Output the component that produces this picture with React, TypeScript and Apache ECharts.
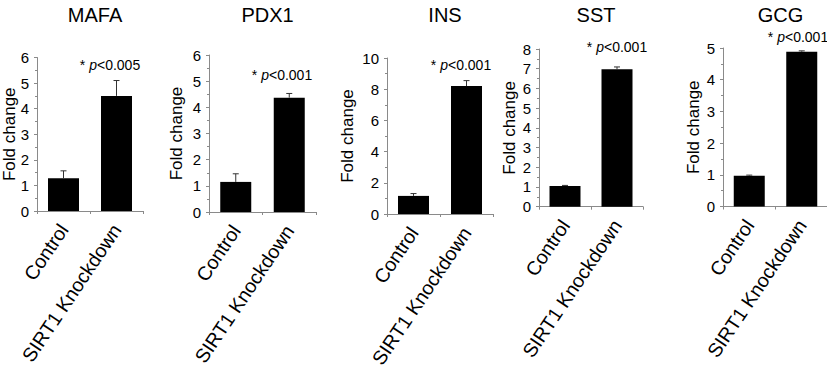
import React, { useEffect, useRef } from "react";
import * as echarts from "echarts";

const genes = ["MAFA", "PDX1", "INS", "SST", "GCG"];
const categories = ["Control", "SIRT1 Knockdown"];
const controlMean = [1.28, 1.15, 1.16, 1.05, 0.97];
const controlErr = [0.29, 0.31, 0.15, 0.03, 0.02];
const knockdownMean = [4.5, 4.37, 8.2, 6.97, 4.88];
const knockdownErr = [0.6, 0.16, 0.35, 0.12, 0.03];
const yMax = [6, 6, 10, 8, 5];
const yInterval = [1, 1, 2, 1, 1];
const pThreshold = ["0.005", "0.001", "0.001", "0.001", "0.001"];

// layout (pixels)
const gridLeft = [37, 209, 387, 539, 723];
const gridWidth = [106, 107, 106, 104, 105];
const gridTop = [57.5, 55, 58, 49, 48];
const gridZero = [211, 212, 214, 206.7, 206.5];
const nameGaps = [19, 24, 31, 21, 21];
const annotPos = [
  [110, 65],
  [282, 75],
  [461, 65],
  [617, 47],
  [798, 37],
];

const FONT = "'Liberation Sans', Arial, sans-serif";
const AXIS_COLOR = "#8a8a8a";

export default function App() {
  const ref = useRef<HTMLDivElement>(null);
  useEffect(() => {
    if (!ref.current) return;
    const chart = echarts.init(ref.current, undefined, { renderer: "svg" });
    const H = 368;
    const grids: any[] = [];
    const xAxes: any[] = [];
    const yAxes: any[] = [];
    const series: any[] = [];
    const titles: any[] = [];
    const graphics: any[] = [];

    genes.forEach((g, i) => {
      grids.push({
        left: gridLeft[i],
        width: gridWidth[i],
        top: gridTop[i],
        bottom: H - gridZero[i],
        outerBoundsMode: "none",
      });
      xAxes.push({
        type: "category",
        gridIndex: i,
        data: categories,
        axisLine: { lineStyle: { color: AXIS_COLOR, width: 1 } },
        axisTick: { show: true, length: 3, lineStyle: { color: AXIS_COLOR } },
        axisLabel: {
          rotate: 56,
          interval: 0,
          fontSize: 19.5,
          color: "#000",
          fontFamily: FONT,
          margin: 15,
          padding: [10, 0, 0, 0],
        },
      });
      yAxes.push({
        type: "value",
        gridIndex: i,
        min: 0,
        max: yMax[i],
        interval: yInterval[i],
        name: "Fold change",
        nameLocation: "middle",
        nameRotate: 90,
        nameGap: nameGaps[i],
        nameMoveOverlap: false,
        nameTextStyle: { fontSize: 17, color: "#000", fontFamily: FONT },
        axisLine: { show: true, lineStyle: { color: AXIS_COLOR, width: 1 } },
        axisTick: { show: true, length: 3, lineStyle: { color: AXIS_COLOR } },
        minorTick: { show: true, splitNumber: 2, length: 2, lineStyle: { color: AXIS_COLOR } },
        splitLine: { show: false },
        axisLabel: { fontSize: 15, color: "#000", fontFamily: FONT, margin: 8 },
      });
      series.push({
        type: "bar",
        xAxisIndex: i,
        yAxisIndex: i,
        data: [controlMean[i], knockdownMean[i]],
        barWidth: 31,
        itemStyle: { color: "#000" },
        z: 2,
      });
      series.push({
        type: "custom",
        xAxisIndex: i,
        yAxisIndex: i,
        z: 3,
        data: [
          [0, controlMean[i], controlMean[i] + controlErr[i]],
          [1, knockdownMean[i], knockdownMean[i] + knockdownErr[i]],
        ],
        renderItem: (params: any, api: any) => {
          const x = api.value(0);
          const base = api.coord([x, api.value(1)]);
          const top = api.coord([x, api.value(2)]);
          const style = { stroke: "#333", lineWidth: 1 };
          return {
            type: "group",
            children: [
              { type: "line", shape: { x1: base[0], y1: base[1], x2: top[0], y2: top[1] }, style },
              { type: "line", shape: { x1: top[0] - 3, y1: top[1], x2: top[0] + 3, y2: top[1] }, style },
            ],
          };
        },
      });
      titles.push({
        text: g,
        left: gridLeft[i] + gridWidth[i] / 2,
        textAlign: "center",
        top: 0,
        textStyle: { fontSize: 20, fontWeight: "normal", color: "#000", fontFamily: FONT },
      });
      graphics.push({
        type: "text",
        x: annotPos[i][0],
        y: annotPos[i][1],
        style: {
          text: "{a|* }{i|p}{a|<" + pThreshold[i] + "}",
          align: "center",
          verticalAlign: "middle",
          rich: {
            a: { fontSize: 14, fontFamily: FONT, fill: "#000", color: "#000" },
            i: { fontSize: 14, fontFamily: FONT, fontStyle: "italic", fill: "#000", color: "#000" },
          },
        },
      });
    });

    chart.setOption({
      animation: false,
      backgroundColor: "#fff",
      title: titles,
      grid: grids,
      xAxis: xAxes,
      yAxis: yAxes,
      series,
      graphic: graphics,
    });
    return () => chart.dispose();
  }, []);
  return (
    <div
      ref={ref}
      style={{ position: "fixed", left: 0, top: 0, width: 827, height: 368, background: "#fff" }}
    />
  );
}
